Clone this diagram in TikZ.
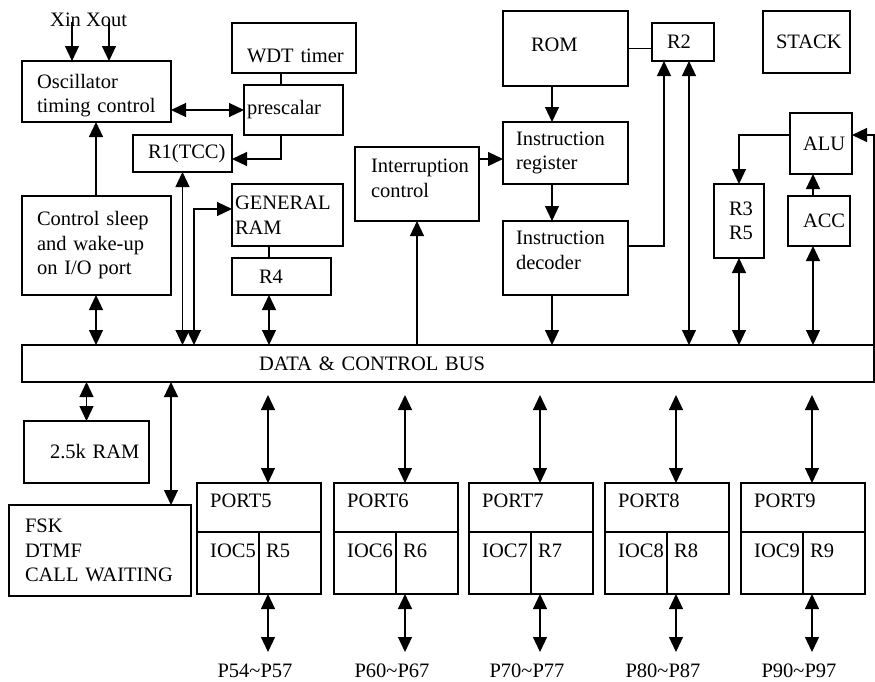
\documentclass[tikz,border=0pt]{standalone}
\usepackage{fontspec}
\setmainfont{Liberation Serif}
\usetikzlibrary{arrows.meta}
\newcommand{\dfont}{\fontsize{20.5pt}{24.5pt}\selectfont}
\hyphenpenalty=10000
\exhyphenpenalty=10000
\tikzset{
    box/.style n args={3}{draw, line width=1.3pt, anchor=north west, inner sep=0pt, outer sep=0pt, align=left, minimum width=#1pt, minimum height=#2pt, text width=#3pt},
    rule/.style={line width=1.3pt},
    con/.style={line width=1.2pt},
    arr/.style={con, -{Triangle[length=15pt,width=14pt]}},
    dbl/.style={con, {Triangle[length=15pt,width=14pt]}-{Triangle[length=15pt,width=14pt]}},
    lbl/.style={anchor=base west, inner sep=0pt},
}

\begin{document}
\begin{tikzpicture}[x=1pt, y=-1pt, font=\dfont]
    \useasboundingbox (0,0) rectangle (875,681);
    \node[box={149}{61}{119}, text depth=21pt] (osc) at (22,61) {Oscillator\\timing control};
    \node[box={124}{50}{94}, text height=30pt] (wdt) at (232,23) {WDT~timer};
    \node[box={99}{50}{93}] (pre) at (244,85) {prescalar};
    \node[box={99}{37}{69}] (r_1) at (133,135) {R1(TCC)};
    \node[box={149}{99}{119}] (sleep) at (22,196) {Control sleep\\and wake-up\\on I/O port};
    \node[box={111}{62}{105}] (gr) at (232,184) {GENERAL\\RAM};
    \node[box={99}{37}{45}] (r_4) at (232,258) {R4};
    \node[box={124}{74}{92}, text depth=36pt] (ic) at (355,147) {Interruption\\control};
    \node[box={125}{75}{69}, text depth=7pt] (rom) at (503,11) {ROM};
    \node[box={125}{62}{99}] (ir) at (503,122) {Instruction\\register};
    \node[box={125}{74}{99}, text depth=40pt] (id) at (503,221) {Instruction\\decoder};
    \node[box={62}{38}{32}] (r_2) at (652,23) {R2};
    \node[box={87}{62}{61}] (stack) at (763,11) {STACK};
    \node[box={62}{61}{36}] (alu) at (790,113) {ALU};
    \node[box={50}{74}{20}] (r_35) at (714,184) {R3\\R5};
    \node[box={62}{50}{32}] (acc) at (788,196) {ACC};
    \node[box={852}{37}{378}] (bus) at (22,345) {DATA \& CONTROL BUS};
    \node[box={125}{62}{73}] (ram) at (24,421) {2.5k~RAM};
    \node[box={182}{91}{150}] (fsk) at (9,505) {FSK\\DTMF\\CALL~WAITING};
    \node[lbl] (xio) at (50,26) {Xin Xout};
    \coordinate (xin) at (72,22);
    \coordinate (xout) at (109,22);
    \coordinate (ic_out) at ([yshift=25pt]ic.east);

    \draw[arr] (xin) -- (xin |- osc.north);
    \draw[arr] (xout) -- (xout |- osc.north);
    \draw[dbl] (osc.east |- pre.west) -- (pre.west);
    \draw[con] (281,0 |- wdt.south) -- (281,0 |- pre.north);
    \draw[arr] (281,0 |- pre.south) |- ([yshift=-5.5pt]r_1.east);
    \draw[arr] (96,0 |- sleep.north) -- (96,0 |- osc.south);
    \draw[dbl] (96,0 |- sleep.south) -- (96,0 |- bus.north);
    \draw[dbl] (r_1.south) -- (r_1.south |- bus.north);
    \draw[dbl] (194,0 |- bus.north) |- ([yshift=6pt]gr.west);
    \draw[con] (269,0 |- gr.south) -- (269,0 |- r_4.north);
    \draw[dbl] (269,0 |- r_4.south) -- (269,0 |- bus.north);
    \draw[arr] (ic.south |- bus.north) -- (ic.south);
    \draw[arr] (ic_out) -- (ic_out -| ir.west);
    \draw[arr] (552,0 |- rom.south) -- (552,0 |- ir.north);
    \draw[arr] (552,0 |- ir.south) -- (552,0 |- id.north);
    \draw[arr] (552,0 |- id.south) -- (552,0 |- bus.north);
    \draw[con] (rom.east) -- (rom.east -| r_2.west);
    \draw[arr] ([yshift=12pt]id.east) -| (664,0 |- r_2.south);
    \draw[dbl] (689,0 |- r_2.south) -- (689,0 |- bus.north);
    \draw[arr] ([yshift=8.5pt]alu.west) -| (r_35.north);
    \draw[arr] (813,0 |- acc.north) -- (813,0 |- alu.south);
    \draw[dbl] (r_35.south) -- (r_35.south |- bus.north);
    \draw[dbl] (813,0 |- acc.south) -- (813,0 |- bus.north);
    \draw[arr] (bus.north east) |- ([yshift=8.5pt]alu.east);
    \draw[dbl] (ram.north |- bus.south) -- (ram.north);
    \draw[dbl] (171,0 |- bus.south) -- (171,0 |- fsk.north);

    \foreach \i/\x/\pins in {5/197/P54\textasciitilde P57, 6/334/P60\textasciitilde P67, 7/469/P70\textasciitilde P77, 8/605/P80\textasciitilde P87, 9/741/P90\textasciitilde P97} {
        \node[box={124}{111}{100}] (p_\i) at (\x,483) {};
        \draw[rule] (\x,532) -- (\x+124,532);
        \draw[rule] (\x+62,532) -- (\x+62,594);
        \node[lbl] (port_\i) at (\x+13,507) {PORT\i};
        \node[lbl] (ioc_\i) at (\x+13,557) {IOC\i};
        \node[lbl] (reg_\i) at (\x+69,557) {R\i};
        \node[lbl, anchor=base] (pin_\i) at (\x+58,677) {\pins};
        \draw[dbl] ([xshift=9pt]p_\i.north) -- ++(0,-88);
        \draw[dbl] ([xshift=9pt]p_\i.south) -- ++(0,58);
    }
\end{tikzpicture}
\end{document}
